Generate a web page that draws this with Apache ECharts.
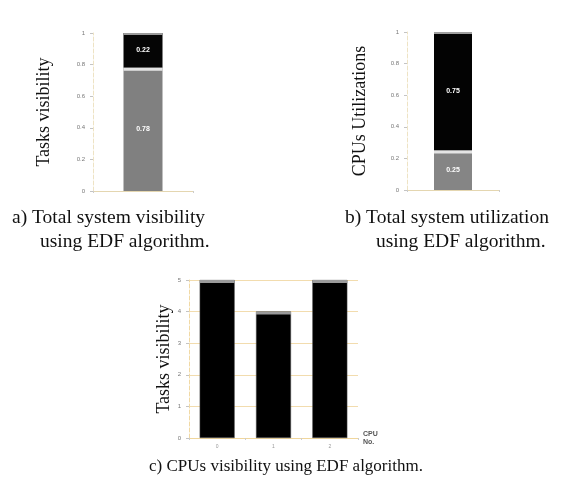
<!DOCTYPE html>
<html>
<head>
<meta charset="utf-8">
<script src="https://cdn.jsdelivr.net/npm/echarts@6/dist/echarts.min.js"></script>
<style>
  html, body { margin: 0; padding: 0; background: #fff; }
  #chart { width: 563px; height: 485px; }
</style>
</head>
<body>
<div id="chart"></div>
<script>
// (a) total system visibility: visible / not visible share
const visCategories = ['1'];
const visVisible = [0.78];
const visHidden = [0.22];

// (b) total system utilization: used / idle share
const utilCategories = ['1'];
const utilLow = [0.25];
const utilHigh = [0.75];

// (c) tasks visible per CPU
const cpuCategories = ['0', '1', '2'];
const cpuVisibility = [5, 4, 5];

const serif = 'Liberation Serif';
const sans = 'Liberation Sans';
const gridLine = '#f2dcae';

function stackTop(a, b) { return a.map((v, i) => +(v + b[i]).toFixed(4)); }

function valueAxis(gridIndex, max, interval, name, nameGap, labels) {
  return {
    gridIndex, type: 'value', min: 0, max, interval,
    name, nameLocation: 'middle', nameGap, nameRotate: 90,
    nameTextStyle: { fontFamily: serif, fontSize: 18, color: '#111' },
    axisLine: { show: true, lineStyle: { color: gridIndex === 2 ? '#f1d9a4' : '#eee3c4', type: 'dashed', width: 1 } },
    axisTick: { show: true, length: 3, lineStyle: { color: '#c4c4c4' } },
    axisLabel: { fontFamily: sans, fontSize: 6, color: '#777', margin: 8,
      formatter: labels ? (v) => labels[Math.round(v / interval)] : undefined },
    splitLine: { show: gridIndex === 2, lineStyle: { color: gridLine, type: 'solid', width: 1 } }
  };
}

function catAxis(gridIndex, data, extra) {
  return Object.assign({
    gridIndex, type: 'category', data,
    axisLine: { lineStyle: { color: '#e4d6b0', width: 1 } },
    axisTick: { show: true, length: 2, lineStyle: { color: '#ccc' } },
    axisLabel: { fontFamily: sans, fontSize: 5, color: '#999', margin: 6 }
  }, extra || {});
}

function stackedBar(xi, data, color, barWidth) {
  return {
    type: 'bar', xAxisIndex: xi, yAxisIndex: xi, stack: 's' + xi, data,
    barWidth, itemStyle: { color },
    label: { show: true, position: 'inside', color: '#fff', fontFamily: sans,
      fontSize: 7, fontWeight: 'bold', formatter: (p) => p.value.toFixed(2) },
    z: 2
  };
}

// thin band drawn at the top edge of a bar
function cap(xi, data, color, width, h) {
  return {
    type: 'pictorialBar', xAxisIndex: xi, yAxisIndex: xi, data,
    symbol: 'rect', symbolSize: [width, h], symbolPosition: 'end',
    itemStyle: { color }, z: 5, silent: true
  };
}

const bigCaption = { fontFamily: serif, fontSize: 19.5, fontWeight: 'normal', color: '#111' };
const smallCaption = { fontFamily: serif, fontSize: 17, fontWeight: 'normal', color: '#111' };

const option = {
  animation: false,
  backgroundColor: '#fff',
  title: [
    { text: 'a) Total system visibility', left: 7, top: 203, textStyle: bigCaption },
    { text: 'using EDF algorithm.', left: 35, top: 227, textStyle: bigCaption },
    { text: 'b) Total system utilization', left: 340, top: 203, textStyle: bigCaption },
    { text: 'using EDF algorithm.', left: 371, top: 227, textStyle: bigCaption },
    { text: 'c) CPUs visibility using EDF algorithm.', left: 281, top: 453, textAlign: 'center', textStyle: smallCaption }
  ],
  grid: [
    { left: 93, top: 33, width: 100, height: 158 },
    { left: 407, top: 32, width: 92, height: 158 },
    { left: 189, top: 280, width: 169, height: 158 }
  ],
  xAxis: [
    catAxis(0, visCategories, { axisLabel: { show: false } }),
    catAxis(1, utilCategories, { axisLabel: { show: false } }),
    catAxis(2, cpuCategories, {
      name: 'CPU\nNo.', nameLocation: 'end', nameGap: 5,
      nameTextStyle: { fontFamily: sans, fontSize: 7, fontWeight: 'bold', color: '#555', lineHeight: 8, padding: [18, 0, 0, 0] },
      axisLine: { lineStyle: { color: '#f0d69c', width: 1 } }
    })
  ],
  yAxis: [
    valueAxis(0, 1, 0.2, 'Tasks visibility', 40, ['0', '0.2', '0.4', '0.6', '0.8', '1']),
    valueAxis(1, 1, 0.2, 'CPUs Utilizations', 38, ['0', '0.2', '0.4', '0.6', '0.8', '1']),
    valueAxis(2, 5, 1, 'Tasks visibility', 15)
  ],
  series: [
    stackedBar(0, visVisible, '#808080', 39),
    stackedBar(0, visHidden, '#050505', 39),
    cap(0, visVisible, '#e4e4e4', 39, 3),
    cap(0, stackTop(visVisible, visHidden), '#9a9a9a', 39, 2),

    stackedBar(1, utilLow, '#858585', 38),
    stackedBar(1, utilHigh, '#030303', 38),
    cap(1, utilLow, '#e4e4e4', 38, 3),
    cap(1, stackTop(utilLow, utilHigh), '#a0a0a0', 38, 2),

    {
      type: 'bar', xAxisIndex: 2, yAxisIndex: 2, data: cpuVisibility, barWidth: 35,
      itemStyle: { color: '#000', borderColor: '#555', borderWidth: 0.5 }, z: 2
    },
    cap(2, cpuVisibility, '#9a9a9a', 35, 3)
  ]
};

echarts.init(document.getElementById('chart'), null, { renderer: 'canvas' }).setOption(option);
</script>
</body>
</html>
